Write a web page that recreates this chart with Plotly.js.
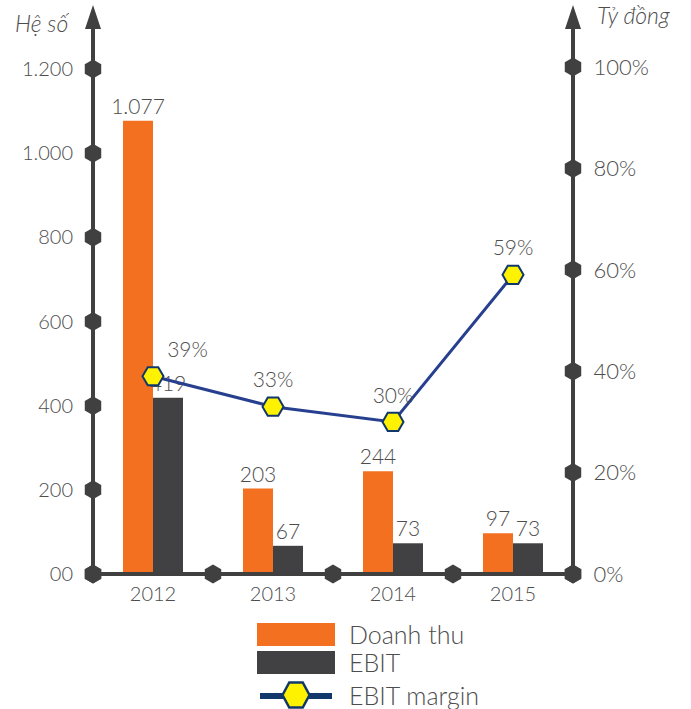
<!DOCTYPE html>
<html>
<head>
<meta charset="utf-8">
<script src="https://cdn.plot.ly/plotly-3.0.1.min.js"></script>
<style>
  html, body { margin: 0; padding: 0; background: #ffffff; }
  #chart { width: 691px; height: 709px; }
</style>
</head>
<body>
<div id="chart"></div>
<script>
// Years on the category axis
const years = ['2012', '2013', '2014', '2015'];
// Revenue and EBIT (left axis)
const doanhThu = [1077, 203, 244, 97];
const ebit = [419, 67, 73, 73];
// EBIT margin (right axis)
const ebitMargin = [0.39, 0.33, 0.30, 0.59];

// Axis ticks
const leftTickVals = [0, 200, 400, 600, 800, 1000, 1200];
const leftTickText = ['00', '200', '400', '600', '800', '1.000', '1.200'];
const rightTickVals = [0, 0.2, 0.4, 0.6, 0.8, 1.0];
const rightTickText = ['0%', '20%', '40%', '60%', '80%', '100%'];

const FONT = 'Lato, "Open Sans", sans-serif';
const TEXT = '#4d4d4d';
const AXIS = '#404041';
const ORANGE = '#f37021';
const DARK = '#414042';

// Plot area geometry (px)
const W = 691, H = 709;
const L = 93, R = 573, T = 10, B = 574;
const px = x => (x - L) / (R - L);
const py = y => (B - y) / (B - T);

const xPos = years.map((_, i) => i);
const yTop = 1200 * (B - T) / (B - 69);
const y2Top = (B - T) / (B - 67);

const hexMarker = { symbol: 'hexagon', size: 19, color: AXIS, line: { width: 0 } };
const labelFont = { family: FONT, size: 21, color: TEXT, weight: 300 };

const traces = [
  {
    type: 'bar', name: 'Doanh thu', x: xPos, y: doanhThu,
    marker: { color: ORANGE },
    texttemplate: '%{y:,}', textposition: 'outside', constraintext: 'none',
    textfont: labelFont, cliponaxis: false, hoverinfo: 'skip'
  },
  {
    type: 'bar', name: 'EBIT', x: xPos, y: ebit,
    marker: { color: DARK },
    texttemplate: '%{y:,}', textposition: 'outside', constraintext: 'none',
    textfont: labelFont, cliponaxis: false, hoverinfo: 'skip'
  },
  // Tick hexagons on the left, right and bottom axes
  {
    type: 'scatter', mode: 'markers', x: leftTickVals.map(() => -0.5), y: leftTickVals,
    marker: hexMarker, cliponaxis: false, hoverinfo: 'skip', showlegend: false
  },
  {
    type: 'scatter', mode: 'markers', x: rightTickVals.map(() => 3.5), y: rightTickVals,
    yaxis: 'y2', marker: hexMarker, cliponaxis: false, hoverinfo: 'skip', showlegend: false
  },
  {
    type: 'scatter', mode: 'markers', x: [-0.5, 0.5, 1.5, 2.5, 3.5], y: [0, 0, 0, 0, 0],
    marker: hexMarker, cliponaxis: false, hoverinfo: 'skip', showlegend: false
  },
  {
    type: 'scatter', mode: 'lines+markers+text', name: 'EBIT margin',
    x: xPos, y: ebitMargin, yaxis: 'y2',
    line: { color: '#273f8f', width: 3 },
    marker: { symbol: 'hexagon2', size: 21, color: '#fff200', line: { color: '#12386b', width: 2 } },
    texttemplate: '%{y:.0%}',
    textposition: ['top right', 'top center', 'top center', 'top center'],
    textfont: labelFont, cliponaxis: false, hoverinfo: 'skip'
  }
];

// Axis lines and arrow heads
const shapes = [
  { type: 'line', xref: 'paper', yref: 'paper', x0: px(L), x1: px(L), y0: py(B), y1: py(24), line: { color: AXIS, width: 4 }, layer: 'above' },
  { type: 'line', xref: 'paper', yref: 'paper', x0: px(R), x1: px(R), y0: py(B), y1: py(24), line: { color: AXIS, width: 4 }, layer: 'above' },
  { type: 'line', xref: 'paper', yref: 'paper', x0: px(L), x1: px(R), y0: py(B), y1: py(B), line: { color: AXIS, width: 4 }, layer: 'above' }
];
[L, R].forEach(ax => {
  shapes.push({
    type: 'path', xref: 'paper', yref: 'paper', layer: 'above',
    path: `M ${px(ax - 8)} ${py(29)} L ${px(ax + 8)} ${py(29)} L ${px(ax)} ${py(5)} Z`,
    fillcolor: AXIS, line: { width: 0 }
  });
});

// Legend drawn below the plot
const lgX0 = 257, lgX1 = 335, lgText = 347;
shapes.push(
  { type: 'rect', xref: 'paper', yref: 'paper', x0: px(lgX0), x1: px(lgX1), y0: py(646), y1: py(623), fillcolor: ORANGE, line: { width: 0 } },
  { type: 'rect', xref: 'paper', yref: 'paper', x0: px(lgX0), x1: px(lgX1), y0: py(674), y1: py(651), fillcolor: DARK, line: { width: 0 } },
  { type: 'line', xref: 'paper', yref: 'paper', x0: px(lgX0 + 3), x1: px(lgX1 - 3), y0: py(696), y1: py(696), line: { color: '#12386b', width: 6 } }
);
(function () {
  const cx = 296, cy = 695, hw = 13.5, hh = 12.5;
  const pts = [[cx - hw, cy], [cx - hw / 2, cy - hh], [cx + hw / 2, cy - hh], [cx + hw, cy], [cx + hw / 2, cy + hh], [cx - hw / 2, cy + hh]];
  shapes.push({
    type: 'path', xref: 'paper', yref: 'paper',
    path: 'M ' + pts.map(p => `${px(p[0])} ${py(p[1])}`).join(' L ') + ' Z',
    fillcolor: '#fff200', line: { color: '#12386b', width: 2.5 }
  });
})();

const legendLabels = ['Doanh thu', 'EBIT', 'EBIT margin'];
const legendY = [634, 662, 695];
const annotations = legendLabels.map((t, i) => ({
  xref: 'paper', yref: 'paper', x: px(lgText), y: py(legendY[i]),
  xanchor: 'left', yanchor: 'middle', showarrow: false, text: t,
  font: { family: FONT, size: 25, color: TEXT, weight: 300 }
}));
annotations.push(
  { xref: 'paper', yref: 'paper', x: px(13), y: py(23), xanchor: 'left', yanchor: 'middle', showarrow: false,
    text: '<i>Hệ số</i>', font: { family: FONT, size: 23, color: TEXT, weight: 300 } },
  { xref: 'paper', yref: 'paper', x: px(595), y: py(15), xanchor: 'left', yanchor: 'middle', showarrow: false,
    text: '<i>Tỷ đồng</i>', font: { family: FONT, size: 23, color: TEXT, weight: 300 } }
);

const layout = {
  width: W, height: H,
  margin: { l: L, r: W - R, t: T, b: H - B, pad: 0 },
  paper_bgcolor: '#ffffff', plot_bgcolor: '#ffffff',
  separators: ',.',
  barmode: 'group', bargap: 0.5, bargroupgap: 0,
  showlegend: false,
  xaxis: {
    range: [-0.5, 3.5], tickvals: xPos, ticktext: years,
    showgrid: false, zeroline: false, showline: false,
    ticks: 'outside', ticklen: 2, tickcolor: 'rgba(0,0,0,0)',
    tickfont: { family: FONT, size: 20, color: TEXT, weight: 300 }, fixedrange: true
  },
  yaxis: {
    range: [0, yTop], tickvals: leftTickVals, ticktext: leftTickText,
    showgrid: false, zeroline: false, showline: false,
    ticks: 'outside', ticklen: 15, tickcolor: 'rgba(0,0,0,0)',
    tickfont: { family: FONT, size: 20, color: TEXT, weight: 300 }, fixedrange: true
  },
  yaxis2: {
    overlaying: 'y', side: 'right',
    range: [0, y2Top], tickvals: rightTickVals, ticktext: rightTickText,
    showgrid: false, zeroline: false, showline: false,
    ticks: 'outside', ticklen: 15, tickcolor: 'rgba(0,0,0,0)',
    tickfont: { family: FONT, size: 22, color: TEXT, weight: 300 }, fixedrange: true
  },
  shapes: shapes,
  annotations: annotations
};

Plotly.newPlot('chart', traces, layout, { staticPlot: true, displayModeBar: false });
</script>
</body>
</html>
